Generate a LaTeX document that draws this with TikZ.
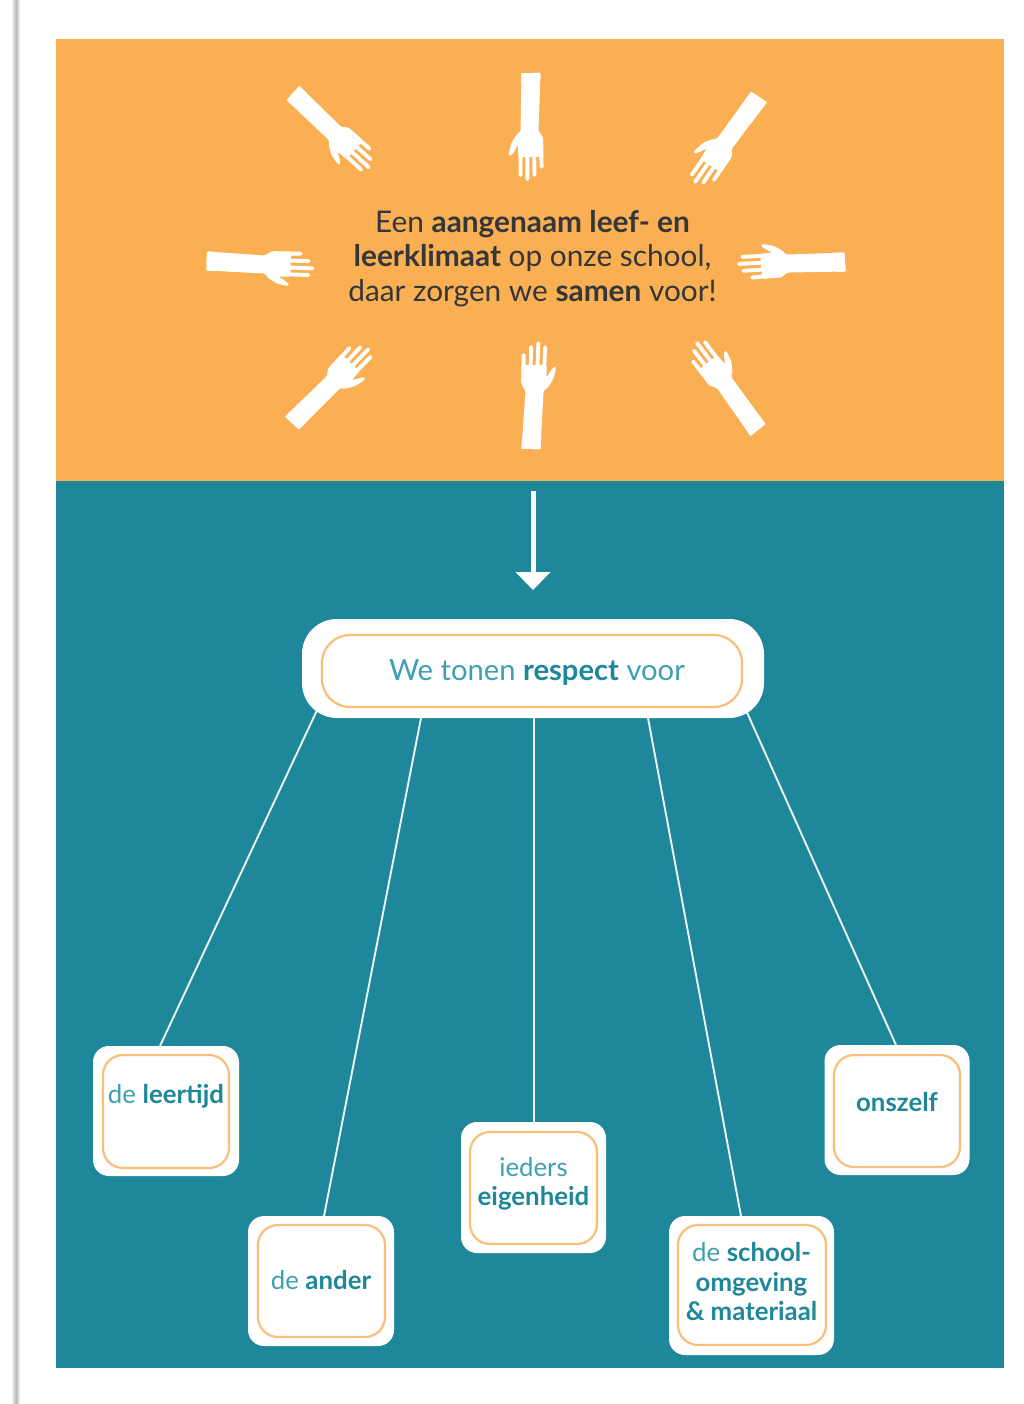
\documentclass[tikz,border=0pt]{standalone}
\usepackage{fontspec}
\setmainfont{Lato}
\usetikzlibrary{calc,shadings}
\definecolor{oranje}{HTML}{FAAF52}
\definecolor{blauw}{HTML}{1E8799}
\definecolor{licht}{HTML}{3D9FB3}
\definecolor{rand}{HTML}{F9BE78}
\definecolor{donker}{HTML}{33373A}
\pgfdeclarelayer{panel}
\pgfdeclarelayer{lines}
\pgfsetlayers{panel,lines,main}
\tikzset{
  x=1pt,y=-1pt,
  outerbox/.style={fill=white,draw=none,rounded corners=16pt,inner sep=0pt,outer sep=0pt},
  innerbox/.style={draw=rand,line width=2.2pt,fill=white,rounded corners=20pt,inner sep=0pt,outer sep=0pt},
  txt/.style={inner sep=0pt,align=center,font=\fontsize{25.8}{29.5}\selectfont,text=licht},
  conn/.style={draw=white!92!blauw,line width=1.9pt},
}
\newcommand{\tb}[1]{\textbf{\textcolor{blauw}{#1}}}
\newcommand{\hand}[3]{%
  \begin{scope}[shift={(#1,#2)},rotate=-#3]
    \fill[white,rounded corners=1.2pt] (0,-9.5) -- (58,-6.5) -- (65,-11) -- (84,-11) -- (84,14) -- (72,14.5)
      -- (81,20) -- (83,23) -- (80,23.5) -- (70,21) -- (62,16) -- (58,11.5) -- (0,9.5) -- cycle;
    \fill[white] (0,-9.5) -- (10,-9) -- (10,10) -- (0,9.5) -- cycle;
    \draw[white,line width=3.9pt,line cap=round] (78,-8.8) -- (94,-9)  (78,-1.8) -- (102,-1.7)
      (78,5) -- (106,5.5)  (78,11.8) -- (102,12.3);
  \end{scope}}
\begin{document}
\begin{tikzpicture}
\useasboundingbox (0,0) rectangle (1023,1404);
\begin{pgfonlayer}{panel}
  \fill[white] (0,0) rectangle (1023,1404);
  \shade[left color=white,right color=black!28] (11,0) rectangle (16,1404);
  \shade[left color=black!28,right color=white] (16,0) rectangle (20,1404);
  \fill[oranje] (56,39) rectangle (1004,480.5);
  \fill[blauw] (56,480.5) rectangle (1004,1368);
\end{pgfonlayer}

\hand{206.7}{261}{1}
\hand{293}{93}{41.5}
\hand{531}{73}{89}
\hand{759}{97}{124}
\hand{845}{262}{176}
\hand{758}{430}{232}
\hand{531}{449}{271}
\hand{292}{423}{313}

\node[inner sep=0pt,align=center,text=donker,font=\fontsize{29.8}{34.3}\selectfont] (intro) at (532.5,258.5)
  {Een \textbf{aangenaam leef- en}\\ \textbf{leerklimaat} op onze school,\\ daar zorgen we \textbf{samen} voor!};

\coordinate (pijlstart) at (533,491);
\coordinate (pijleind) at (533,590);

\node[outerbox,rounded corners=35pt,minimum width=462pt,minimum height=99pt] (main) at (533,668.5) {};
\node[innerbox,rounded corners=28pt,minimum width=420pt,minimum height=72pt] (maini) at (532,671) {};
\node[txt,font=\fontsize{29.2}{32}\selectfont] (maint) at (537,672) {We tonen \tb{respect} voor};

\node[outerbox,minimum width=146pt,minimum height=130pt] (leertijd) at (166,1111) {};
\node[innerbox,minimum width=126pt,minimum height=113pt] (leertijdi) at (166,1111.5) {};
\node[txt] (leertijdt) at (166,1096) {de \tb{leertijd}};

\node[outerbox,minimum width=146pt,minimum height=130pt] (ander) at (321,1281) {};
\node[innerbox,minimum width=127pt,minimum height=112pt] (anderi) at (321.5,1281) {};
\node[txt] (andert) at (321,1280.5) {de \tb{ander}};

\node[outerbox,minimum width=145pt,minimum height=131pt] (eigen) at (533.5,1187.5) {};
\node[innerbox,minimum width=127pt,minimum height=112pt] (eigeni) at (533.5,1188) {};
\node[txt] (eigent) at (533.5,1184) {ieders\\ \tb{eigenheid}};

\node[outerbox,minimum width=165pt,minimum height=139pt] (school) at (751.5,1285.5) {};
\node[innerbox,minimum width=148pt,minimum height=120pt] (schooli) at (752,1285) {};
\node[txt] (schoolt) at (751.5,1282) {de \tb{school-}\\ \tb{omgeving}\\ \tb{\& materiaal}};

\node[outerbox,minimum width=145pt,minimum height=130pt] (zelf) at (897,1110) {};
\node[innerbox,minimum width=126pt,minimum height=112pt] (zelfi) at (897,1111) {};
\node[txt] (zelft) at (897,1102) {\tb{onszelf}};

\begin{pgfonlayer}{lines}
  \draw[conn] ([xshift=-214pt,yshift=12pt]main.south) -- ([xshift=-6pt]leertijd.north);
  \draw[conn] ([xshift=-112pt]main.south) -- ([xshift=3pt]ander.north);
  \draw[conn] ([xshift=1pt]main.south) -- ([xshift=0.5pt]eigen.north);
  \draw[conn] ([xshift=115pt]main.south) -- ([xshift=-10.5pt]school.north);
  \draw[conn] ([xshift=212pt,yshift=10pt]main.south) -- ([xshift=-1pt]zelf.north);
\end{pgfonlayer}
\draw[white,line width=5pt] (pijlstart) -- ($(pijleind)+(0,-16)$);
\fill[white] (515.5,572) -- (550.5,572) -- (pijleind) -- cycle;
\end{tikzpicture}
\end{document}
